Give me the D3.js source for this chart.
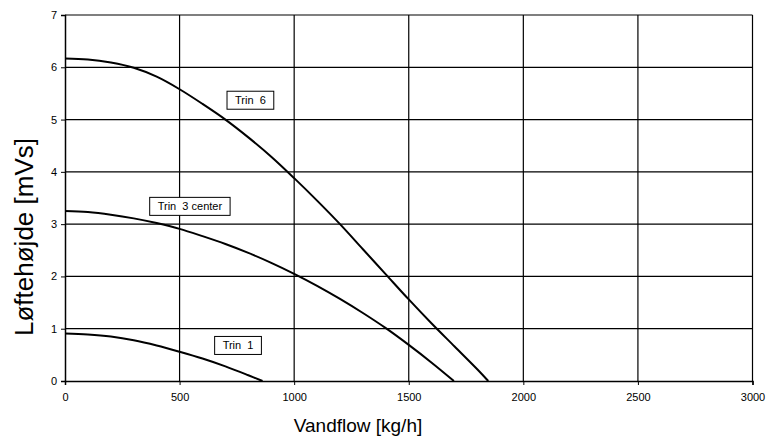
<!DOCTYPE html>
<html>
<head>
<meta charset="utf-8">
<script src="https://cdn.jsdelivr.net/npm/d3@7"></script>
<style>
  body { margin: 0; background: #fff; }
  svg text { font-family: Arial, "Liberation Sans", sans-serif; fill: #000; white-space: pre; }
</style>
</head>
<body>
<div id="chart"></div>
<script>
// pump curves: flow [kg/h] vs head [mVs]
let trin6Flow = [0, 100, 200, 300, 400, 500, 600, 700, 800, 900, 1000, 1100, 1200, 1300, 1400, 1500, 1600, 1700, 1800, 1847];
let trin6Head = [6.17, 6.15, 6.09, 5.99, 5.82, 5.58, 5.30, 5.00, 4.66, 4.29, 3.88, 3.45, 3.00, 2.52, 2.04, 1.56, 1.10, 0.66, 0.22, 0];

let trin3Flow = [0, 100, 200, 300, 400, 500, 600, 700, 800, 900, 1000, 1100, 1200, 1300, 1400, 1500, 1600, 1697];
let trin3Head = [3.25, 3.23, 3.18, 3.11, 3.02, 2.91, 2.77, 2.62, 2.45, 2.26, 2.05, 1.82, 1.57, 1.30, 1.01, 0.69, 0.35, 0];

let trin1Flow = [0, 100, 200, 300, 400, 500, 600, 700, 800, 862];
let trin1Head = [0.91, 0.89, 0.85, 0.78, 0.68, 0.56, 0.43, 0.28, 0.11, 0];

let labelText = ['Trin  6', 'Trin  3 center', 'Trin  1'];
let labelFlow = [809, 545, 755];
let labelHead = [5.37, 3.34, 0.68];

let xTicks = [0, 500, 1000, 1500, 2000, 2500, 3000];
let yTicks = [0, 1, 2, 3, 4, 5, 6, 7];

let width = 767, height = 441;
let margin = {left: 65, right: 14.5, top: 15, bottom: 60};

let svg = d3.select('#chart')
	.append('svg')
	.attr('width', width)
	.attr('height', height);

let x = d3.scaleLinear()
	.domain([0, 3000])
	.range([margin.left, width - margin.right]);
let y = d3.scaleLinear()
	.domain([0, 7])
	.range([height - margin.bottom, margin.top]);

// grid
svg.append('g')
	.selectAll('line')
	.data(xTicks.slice(1))
	.enter()
	.append('line')
	.attr('x1', d => x(d)).attr('x2', d => x(d))
	.attr('y1', y(0)).attr('y2', y(7))
	.attr('stroke', '#000')
	.attr('stroke-width', 1.2);
svg.append('g')
	.selectAll('line')
	.data(yTicks.slice(1))
	.enter()
	.append('line')
	.attr('x1', x(0)).attr('x2', x(3000))
	.attr('y1', d => y(d)).attr('y2', d => y(d))
	.attr('stroke', '#000')
	.attr('stroke-width', 1.2);

// axes
let xAxis = svg.append('g')
	.attr('transform', `translate(0,${y(0)})`)
	.call(d3.axisBottom(x).tickValues(xTicks).tickSize(4).tickPadding(8).tickFormat(d3.format('d')));
let yAxis = svg.append('g')
	.attr('transform', `translate(${x(0)},0)`)
	.call(d3.axisLeft(y).tickValues(yTicks).tickSize(4).tickPadding(4).tickFormat(d3.format('d')));
[xAxis, yAxis].forEach(a => {
	a.select('.domain').attr('stroke', '#000').attr('stroke-width', 1.5);
	a.selectAll('.tick line').attr('stroke', '#000');
	a.selectAll('.tick text').attr('font-size', 11).attr('font-family', 'Arial, "Liberation Sans", sans-serif').attr('fill', '#000');
});

// curves
let line = d3.line()
	.x(d => x(d[0]))
	.y(d => y(d[1]))
	.curve(d3.curveCatmullRom.alpha(0.5));
[[trin6Flow, trin6Head], [trin3Flow, trin3Head], [trin1Flow, trin1Head]].forEach(s => {
	svg.append('path')
		.datum(s[0].map((q, i) => [q, s[1][i]]))
		.attr('d', line)
		.attr('fill', 'none')
		.attr('stroke', '#000')
		.attr('stroke-width', 2);
});

// labels
labelText.forEach((t, i) => {
	let g = svg.append('g').attr('transform', `translate(${x(labelFlow[i])},${y(labelHead[i])})`);
	let txt = g.append('text')
		.attr('text-anchor', 'middle')
		.attr('dy', '0.35em')
		.attr('font-size', 11)
		.text(t);
	let w = txt.node().getComputedTextLength() + 16;
	g.insert('rect', 'text')
		.attr('x', -w / 2)
		.attr('y', -9)
		.attr('width', w)
		.attr('height', 18)
		.attr('fill', '#fff')
		.attr('stroke', '#000')
		.attr('stroke-width', 1);
});

// axis titles
svg.append('text')
	.attr('x', 358)
	.attr('y', 432)
	.attr('text-anchor', 'middle')
	.attr('font-size', 19)
	.text('Vandflow [kg/h]');
svg.append('text')
	.attr('transform', 'translate(33,237) rotate(-90)')
	.attr('text-anchor', 'middle')
	.attr('font-size', 26)
	.text('Løftehøjde [mVs]');
</script>
</body>
</html>
